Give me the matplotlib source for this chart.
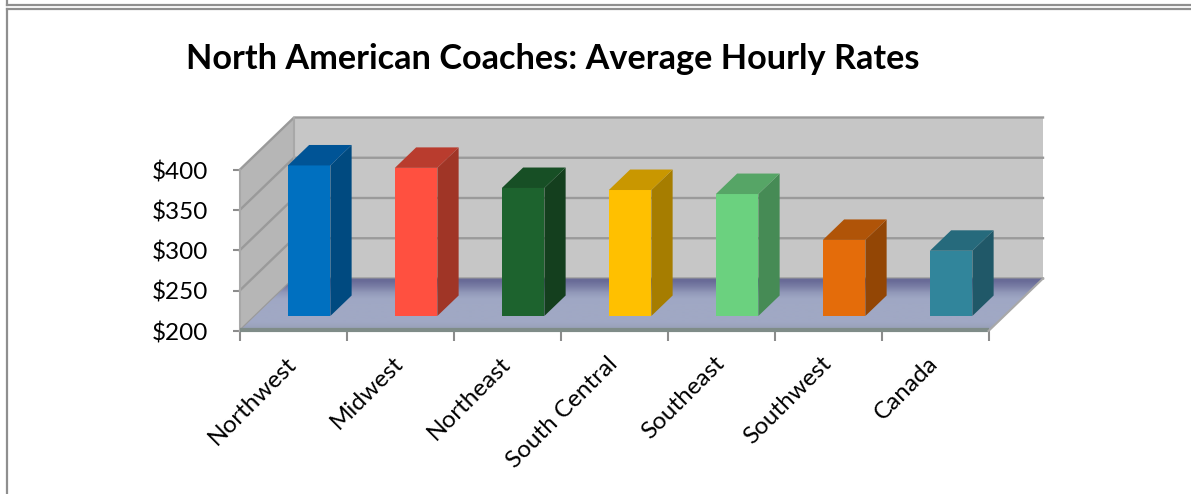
import matplotlib
matplotlib.use("Agg")
import matplotlib.pyplot as plt
from matplotlib.colors import to_rgb
from matplotlib.lines import Line2D
from matplotlib.patches import Polygon
import numpy as np

plt.rcParams["font.family"] = ["Lato", "DejaVu Sans"]

regions = ["Northwest", "Midwest", "Northeast", "South Central", "Southeast", "Southwest", "Canada"]
rates = [387, 384, 359, 356.5, 351.5, 294.5, 281]
yticks = [200, 250, 300, 350, 400]

front_colors = ["#0070c0", "#ff5040", "#1d632e", "#ffc000", "#6bd17f", "#e46c0a", "#31859b"]
top_colors = ["#005496", "#b93c2e", "#174f25", "#c99700", "#56a566", "#b05408", "#266a7c"]
side_colors = ["#004a80", "#a03526", "#143f1e", "#a67d00", "#468b55", "#934605", "#205868"]
floor_stops = ["#696b97", "#7b7fa6", "#9299b9", "#9fa7c4", "#a0a8c4", "#a0a8c4", "#a0a8c4", "#a0a8c4", "#99a1b8"]

W, H = 1191, 494
fig = plt.figure(figsize=(W / 100, H / 100), dpi=100)
ax = fig.add_axes([239.5 / W, 1 - 331 / H, 749 / W, 161 / H])
ax.set_xlim(0, 7)
ax.set_ylim(200, 400)
ax.set_autoscale_on(False)
for s in ax.spines.values():
    s.set_visible(False)
ax.patch.set_visible(False)

# how far one full unit of depth shifts things, in data units
depth_x = 54.5 / (749 / 7)
depth_y = 52.5 / (161 / 200)


def proj(x, y, d):
    return (x + d * depth_x, y + d * depth_y)


# back wall
back = [proj(0, 200, 1), proj(7, 200, 1), proj(7, 400, 1), proj(0, 400, 1)]
ax.add_patch(Polygon(back, fc="#c6c6c6", ec="none", zorder=1, clip_on=False))
# side wall
side = [proj(0, 200, 0), proj(0, 200, 1), proj(0, 400, 1), proj(0, 400, 0)]
ax.add_patch(Polygon(side, fc="#b6b6b6", ec="none", zorder=1, clip_on=False))

# grid lines along the walls
for v in yticks:
    a = proj(0, v, 0)
    b = proj(0, v, 1)
    c = proj(7, v, 1)
    ax.plot([a[0], b[0], c[0]], [a[1], b[1], c[1]], color="#9a9a9a", lw=1.7, zorder=2, clip_on=False,
            solid_joinstyle="miter")
a = proj(0, 200, 1)
b = proj(0, 400, 1)
ax.plot([a[0], b[0]], [a[1], b[1]], color="#a8a8a8", lw=1.5, zorder=2, clip_on=False)
ax.plot([0, 0], [200, 400], color="#a8a8a8", lw=1.5, zorder=2, clip_on=False)

# floor
floor = [proj(0, 200, 0), proj(7, 200, 0), proj(7, 200, 1), proj(0, 200, 1)]
poly = Polygon(floor, fc="none", ec="none", clip_on=False)
ax.add_patch(poly)
floor_img = np.array([[to_rgb(c)] for c in floor_stops])
im = ax.imshow(floor_img, extent=(0, 7 + depth_x, 200, 200 + depth_y), origin="upper", aspect="auto",
               interpolation="bilinear", zorder=3.1)
im.set_clip_box(fig.bbox)
im.set_clip_path(poly)
ax.set_xlim(0, 7)
ax.set_ylim(200, 400)
# front edge of the floor and right edge
ax.plot([0, 7], [201.5, 201.5], color="#7f8c88", lw=3, zorder=3.2, clip_on=False, solid_capstyle="butt")
r0 = proj(7, 200, 0)
r1 = proj(7, 200, 1)
ax.plot([r0[0], r1[0]], [r0[1], r1[1]], color="#a8a8a8", lw=1.5, zorder=3.2, clip_on=False)

# bars
bar_w = 42.5 / (749 / 7)
d0 = 0.286
d1 = d0 + 0.39
for i, v in enumerate(rates):
    left = i + 0.505 - bar_w / 2
    right = left + bar_w
    fx, fy = proj(left, 200, d0)
    ax.bar(fx, v - 200, width=bar_w, bottom=fy, align="edge", color=front_colors[i], zorder=5 + i * 0.1,
           clip_on=False)
    ax.add_patch(Polygon([proj(right, 200, d0), proj(right, 200, d1), proj(right, v, d1), proj(right, v, d0)],
                         fc=side_colors[i], ec="none", zorder=5 + i * 0.1, clip_on=False))
    ax.add_patch(Polygon([proj(left, v, d0), proj(right, v, d0), proj(right, v, d1), proj(left, v, d1)],
                         fc=top_colors[i], ec="none", zorder=5 + i * 0.1, clip_on=False))

# ticks
ax.set_yticks(yticks)
ax.set_yticklabels([f"${v}" for v in yticks], fontsize=17.5, color="black")
ax.tick_params(axis="y", length=5, width=1.5, color="#8c8c8c", pad=17.5)
ax.set_xticks(range(8))
ax.set_xticklabels([])
ax.tick_params(axis="x", length=7, width=1.5, color="#8c8c8c")
ax.set_xticks([i + 0.5 for i in range(7)], minor=True)
ax.set_xticklabels(regions, minor=True, rotation=45, ha="right", va="center", rotation_mode="anchor", fontsize=17.5)
ax.tick_params(axis="x", which="minor", length=0, pad=21)

fig.text(553 / W, 1 - 59 / H, "North American Coaches: Average Hourly Rates", fontsize=24.7, fontweight="bold",
         ha="center", va="center")

# frame of the sheet around the chart
for xs, ys in [((7, W), (5.3, 5.3)), ((7, 7), (0, 5.3)), ((7, W), (9.4, 9.4)), ((7, 7), (9.4, H))]:
    fig.add_artist(Line2D([x / W for x in xs], [1 - y / H for y in ys], color="#8f8f8f", lw=1.6))

fig.savefig("out.png", dpi=100)
